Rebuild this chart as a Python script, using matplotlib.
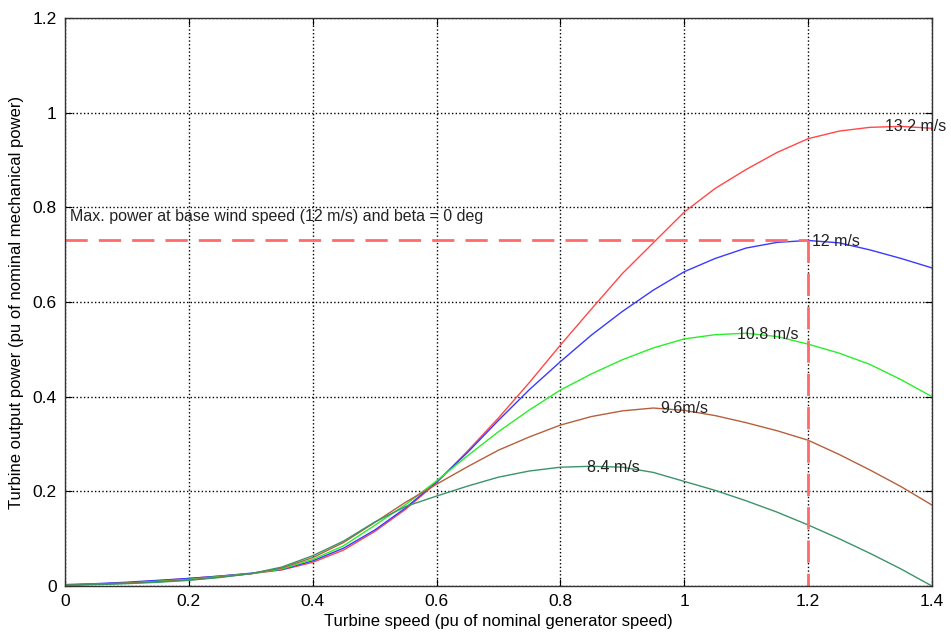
# turbine power characteristics - power vs speed for several wind speeds
import matplotlib
matplotlib.use("Agg")
import matplotlib.pyplot as plt
import numpy as np

plt.rcParams['font.family'] = ['Liberation Sans Narrow', 'Liberation Sans', 'DejaVu Sans']

# turbine speed (pu), step 0.05
speed = np.round(np.arange(0, 1.401, 0.05), 2)

p_132 = [0.002, 0.004, 0.007, 0.011, 0.016, 0.021, 0.026, 0.034, 0.050, 0.076,
         0.115, 0.162, 0.218, 0.285, 0.355, 0.430, 0.509, 0.585, 0.660, 0.725,
         0.790, 0.840, 0.880, 0.916, 0.945, 0.961, 0.969, 0.971, 0.967]
p_120 = [0.003, 0.005, 0.008, 0.012, 0.016, 0.021, 0.027, 0.035, 0.053, 0.080,
         0.118, 0.165, 0.220, 0.282, 0.350, 0.415, 0.474, 0.530, 0.580, 0.625,
         0.664, 0.692, 0.714, 0.726, 0.730, 0.725, 0.710, 0.692, 0.672]
p_108 = [0.002, 0.004, 0.006, 0.010, 0.014, 0.020, 0.026, 0.036, 0.056, 0.085,
         0.128, 0.172, 0.222, 0.275, 0.326, 0.372, 0.414, 0.448, 0.478, 0.503,
         0.522, 0.531, 0.534, 0.527, 0.511, 0.492, 0.468, 0.436, 0.400]
p_096 = [0.002, 0.004, 0.006, 0.009, 0.013, 0.019, 0.026, 0.038, 0.060, 0.092,
         0.134, 0.177, 0.215, 0.252, 0.287, 0.315, 0.340, 0.358, 0.370, 0.376,
         0.371, 0.360, 0.345, 0.328, 0.308, 0.278, 0.245, 0.210, 0.171]
p_084 = [0.002, 0.003, 0.005, 0.008, 0.012, 0.018, 0.026, 0.040, 0.064, 0.095,
         0.135, 0.168, 0.190, 0.211, 0.230, 0.243, 0.251, 0.253, 0.251, 0.240,
         0.221, 0.202, 0.180, 0.156, 0.129, 0.100, 0.069, 0.036, 0.000]

krzywe = [p_132, p_120, p_108, p_096, p_084]
kolory = ['#ff4848', '#3a3aff', '#2aee2a', '#b5603c', '#3b9468']
etykiety = ['13.2 m/s', '12 m/s', '10.8 m/s', '9.6m/s', '8.4 m/s']
pozycje = [(1.324, 0.970), (1.206, 0.727), (1.085, 0.532), (0.962, 0.376), (0.843, 0.251)]

p_max = 0.73   # max power at base wind speed
w_max = 1.2    # speed at max power

fig = plt.figure(figsize=(9.51, 6.42), dpi=100)
ax = fig.add_axes([0.0683, 0.0872, 0.9117, 0.8848])

for y, c in zip(krzywe, kolory):
    ax.plot(speed, y, color=c, lw=1.0)

ax.plot([0, w_max], [p_max, p_max], color='#ff6a6a', lw=2, dashes=(8, 4))
ax.plot([w_max, w_max], [p_max, 0], color='#ff6a6a', lw=2, dashes=(8, 4))

for t, (xx, yy) in zip(etykiety, pozycje):
    ax.text(xx, yy, t, fontsize=11.5, va='center', ha='left', color='#222222')
ax.text(0.008, 0.78, "Max. power at base wind speed (12 m/s) and beta = 0 deg",
        fontsize=11.5, va='center', ha='left', color='#222222')

ax.set_xlim(0, 1.4)
ax.set_ylim(0, 1.2)
ax.set_xticks(np.arange(0, 1.41, 0.2))
ax.set_xticklabels(['0', '0.2', '0.4', '0.6', '0.8', '1', '1.2', '1.4'])
ax.set_yticks(np.arange(0, 1.21, 0.2))
ax.set_yticklabels(['0', '0.2', '0.4', '0.6', '0.8', '1', '1.2'])
ax.tick_params(direction='in', top=True, right=True, labelsize=12.5, length=5, pad=6)
ax.grid(True, color='black', linestyle=':', linewidth=1.0)
for s in ax.spines.values():
    s.set_linewidth(1.0)
    s.set_color('#333333')

ax.set_xlabel("Turbine speed (pu of nominal generator speed)", fontsize=12, labelpad=3)
ax.set_ylabel("Turbine output power (pu of nominal mechanical power)", fontsize=12, labelpad=6)

plt.savefig("out.png")
